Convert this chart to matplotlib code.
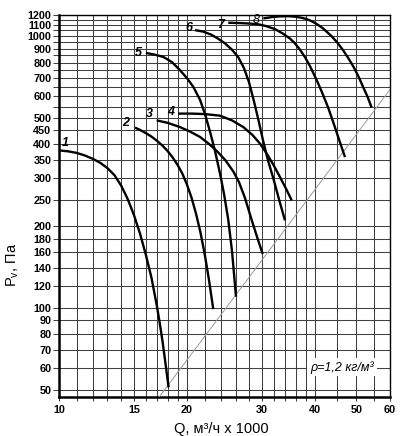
import matplotlib
matplotlib.use("Agg")
import matplotlib.pyplot as plt
from matplotlib.ticker import FixedLocator, NullFormatter, FixedFormatter

plt.rcParams['font.family'] = ['Liberation Sans', 'DejaVu Sans']
plt.rcParams['mathtext.fontset'] = 'custom'
plt.rcParams['mathtext.rm'] = 'Liberation Sans'
plt.rcParams['mathtext.it'] = 'Liberation Sans:italic'

# ---- data ----
q1 = [10, 10.5, 11, 11.5, 12, 12.5, 13, 13.5, 14, 14.5, 15, 15.5, 16, 16.5, 17,
      17.25, 17.5, 17.75, 18.1]
p1 = [380, 377, 372, 364, 354, 342, 327, 308, 282, 252, 220, 188, 157, 129, 101,
      88, 76, 64.5, 51]

q2 = [15.09, 15.5, 16, 16.5, 17, 17.5, 18, 18.5, 19, 19.5, 20, 20.5, 21, 21.5, 22, 22.5, 23.05]
p2 = [461, 452, 440, 427, 412, 396, 378, 358, 336, 312, 284, 254, 222, 190, 158, 128, 99]

q3 = [16.97, 18, 19.25, 20.3, 21.45, 22.5, 23.5, 24.6, 25.69, 26.5, 27.34, 28.45, 29.3, 30.12]
p3 = [490, 480, 463, 446, 426, 402, 378, 350, 318, 290, 255, 208, 180, 158]

q4 = [19.07, 20.5, 22, 23.9, 25.5, 27.12, 28.5, 29.7, 30.78, 32, 33.08, 34.2, 35.24]
p4 = [519, 519, 517, 510, 490, 463, 433, 402, 370, 334, 303, 274, 249]

q5 = [16.01, 16.81, 17.59, 18.43, 19.25, 19.99, 20.69, 21.45, 22.04, 22.65, 23.27,
      23.90, 24.43, 25.0, 25.51, 26.07]
p5 = [868, 855, 839, 803, 750, 701, 651, 584, 517, 445, 378, 313, 263, 211, 162, 110]

q6 = [20.88, 21.80, 22.77, 23.65, 24.56, 25.51, 26.39, 27.22, 27.97, 28.73, 29.44,
      30.17, 31.0, 31.90, 32.90, 33.98]
p6 = [1053, 1040, 1014, 980, 941, 892, 837, 763, 677, 576, 491, 414, 349, 300, 251, 210]

q7 = [25.0, 26.64, 28.12, 29.41, 30.66, 32.19, 33.62, 34.92, 35.88, 36.86, 37.87,
      38.91, 40.35, 41.52, 42.89, 44.14, 45.52, 47.03]
p7 = [1121, 1118, 1113, 1106, 1090, 1062, 1022, 980, 941, 892, 837, 776, 689, 622,
      548, 482, 417, 359]

q8 = [30.22, 31.68, 33.08, 34.60, 35.88, 36.86, 37.87, 38.91, 40.19, 41.74, 43.59,
      45.03, 46.52, 47.80, 49.38, 50.73, 51.84, 53.12, 54.33]
p8 = [1163, 1176, 1183, 1185, 1180, 1172, 1161, 1143, 1114, 1069, 1005, 951, 889,
      834, 766, 704, 652, 599, 546]

curve_names = ['1', '2', '3', '4', '5', '6', '7', '8']
curves_q = [q1, q2, q3, q4, q5, q6, q7, q8]
curves_p = [p1, p2, p3, p4, p5, p6, p7, p8]

system_q = [17.2, 60]
system_p = [47, 636]

y_ticks = [50, 60, 70, 80, 90, 100, 120, 140, 160, 180, 200, 250, 300, 350,
           400, 450, 500, 600, 700, 800, 900, 1000, 1100, 1200]
y_minor = [550, 650, 750, 850, 950, 1050, 1150]
x_ticks = [10, 15, 20, 30, 40, 50, 60]
x_minor = [11, 12, 13, 14, 16, 17, 18, 19, 22, 24, 26, 28, 32, 34, 36, 38, 45, 55]

label_offsets = [(6, 7), (-9, 5), (-7, 6), (-8, 2), (-8, 0), (-6, 2), (-8, -2), (-7, -2)]
label_weights = ['bold'] * 7 + ['normal']

fig = plt.figure(figsize=(4.0, 4.36), dpi=100)
ax = fig.add_axes([0.1475, 0.0894, 0.8275, 0.8769])
ax.set_xscale('log')
ax.set_yscale('log')
ax.set_xlim(10, 60)
ax.set_ylim(47, 1200)

ax.xaxis.set_major_locator(FixedLocator(x_ticks))
ax.xaxis.set_major_formatter(FixedFormatter([str(v) for v in x_ticks]))
ax.xaxis.set_minor_locator(FixedLocator(x_minor))
ax.xaxis.set_minor_formatter(NullFormatter())
ax.yaxis.set_major_locator(FixedLocator(y_ticks))
ax.yaxis.set_major_formatter(FixedFormatter([str(v) for v in y_ticks]))
ax.yaxis.set_minor_locator(FixedLocator(y_minor))
ax.yaxis.set_minor_formatter(NullFormatter())

ax.grid(True, which='both', color='#404040', linewidth=0.75)
ax.set_axisbelow(True)

ax.tick_params(axis='y', which='both', length=4.5, width=0.75, pad=1,
               labelsize=7.8, color='#404040')
ax.tick_params(axis='x', which='both', length=3, width=0.75, pad=3,
               labelsize=7.8, color='#404040')
for lab in ax.get_xticklabels() + ax.get_yticklabels():
    lab.set_fontweight('bold')

for side in ['left', 'bottom']:
    ax.spines[side].set_linewidth(1.8)
for side in ['top', 'right']:
    ax.spines[side].set_linewidth(1.0)

ax.plot(system_q, system_p, color='#9a9a9a', linewidth=0.7, zorder=3)

for name, qs, ps, off, wt in zip(curve_names, curves_q, curves_p, label_offsets, label_weights):
    ax.plot(qs, ps, color='black', linewidth=1.7, solid_capstyle='butt',
            solid_joinstyle='round', zorder=4)
    ax.annotate(name, xy=(qs[0], ps[0]), xytext=off, textcoords='offset pixels',
                ha='center', va='center', fontsize=9, fontweight=wt,
                fontstyle='italic', zorder=5)

ax.text(0.855, 0.078, 'ρ=1,2 кг/м³', transform=ax.transAxes, ha='center',
        va='center', fontsize=9, fontstyle='italic', zorder=6,
        bbox=dict(facecolor='white', edgecolor='none', pad=2.0))

ax.set_xlabel('Q, м³/ч x 1000', fontsize=10.5)
ax.xaxis.set_label_coords(0.49, -0.065)
ax.set_ylabel(r'P$_{\mathrm{v}}$, Па', fontsize=10.5)
ax.yaxis.set_label_coords(-0.115, 0.345)

fig.savefig('out.png', dpi=100)
